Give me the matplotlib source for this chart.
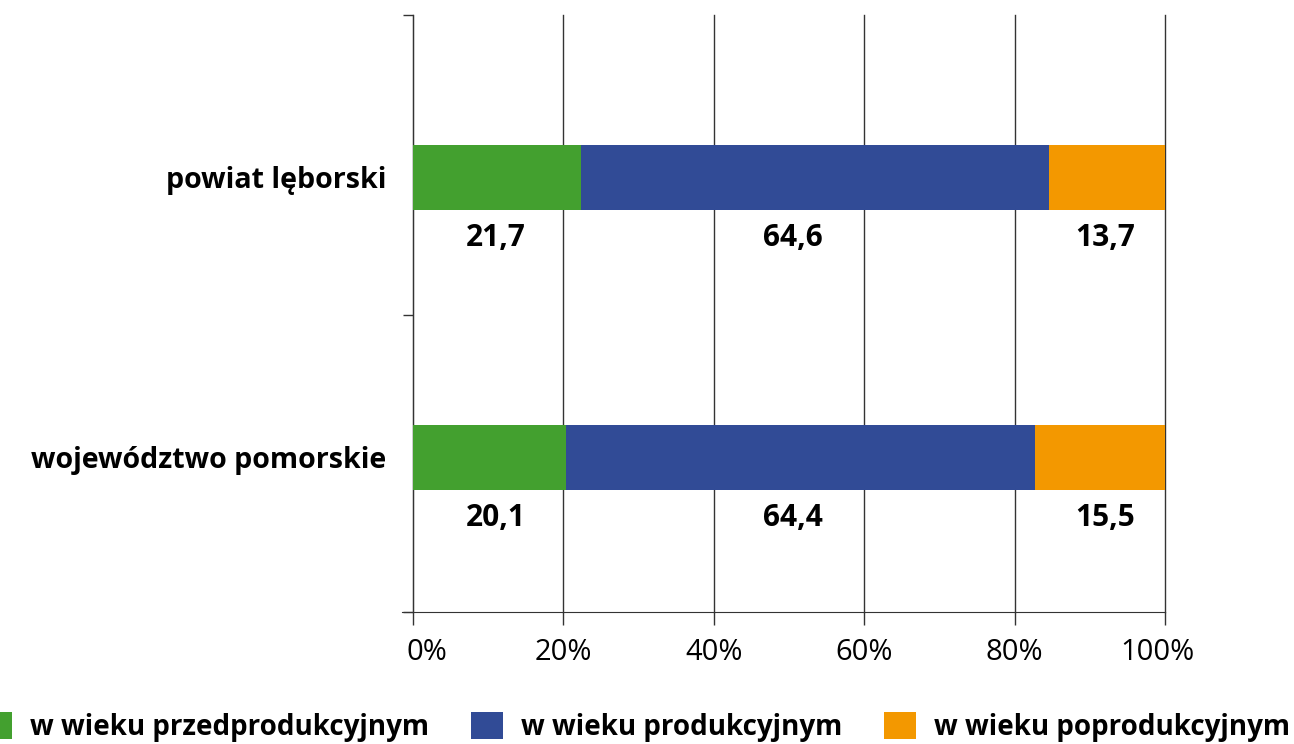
import matplotlib
matplotlib.use("Agg")
import matplotlib.pyplot as plt
import matplotlib.transforms as mtransforms
from matplotlib.patches import Patch

categories = ["województwo pomorskie", "powiat lęborski"]
series_names = ["w wieku przedprodukcyjnym", "w wieku produkcyjnym", "w wieku poprodukcyjnym"]
# segment widths as drawn in the reference picture
pre = [20.4, 22.3]
prod = [62.3, 62.3]
post = [17.3, 15.4]
# printed value labels
value_labels = [["20,1", "64,4", "15,5"], ["21,7", "64,6", "13,7"]]
xticks = [0, 20, 40, 60, 80, 100]
xtick_labels = ["0%", "20%", "40%", "60%", "80%", "100%"]

colors = ["#43a02f", "#314b96", "#f39800"]
FONT = "Open Sans"

fig = plt.figure(figsize=(12.94, 7.44), dpi=100)
ax = fig.add_axes([413/1294, 1-612/744, (1165-413)/1294, (612-15)/744])

ypos = [0, 1]
h = 0.232
left = [0, 0]
for vals, c in zip([pre, prod, post], colors):
    ax.barh(ypos, vals, left=left, height=h, color=c, zorder=3, linewidth=0)
    left = [l + v for l, v in zip(left, vals)]

label_x = [11, 50.5, 92]
for yi, labs in zip(ypos, value_labels):
    for xi, t in zip(label_x, labs):
        ax.text(xi, yi - 0.216, t, ha="center", va="center", fontsize=21.5,
                fontweight="bold", family=FONT, color="black")

ax.set_xlim(0, 100)
ax.set_ylim(-0.552, 1.580)
ax.set_xticks(xticks)
ax.set_xticklabels(xtick_labels, fontsize=21, family=FONT)
ax.tick_params(axis="x", length=9, width=1, color="#333333", pad=10)
ax.grid(axis="x", color="#333333", linewidth=1, zorder=0)
for gl in ax.get_xgridlines():
    gl.set_clip_on(False)
lbls = ax.get_xticklabels()
shifts = {0: 14, len(lbls) - 1: -8}
for i, dx in shifts.items():
    off = mtransforms.ScaledTranslation(dx / 100, 0, fig.dpi_scale_trans)
    lbls[i].set_transform(lbls[i].get_transform() + off)

ax.set_yticks([-0.552, 0.509, 1.580])
ax.set_yticklabels(["", "", ""])
ax.tick_params(axis="y", which="major", length=7, width=1, color="#333333")
ax.set_yticks(ypos, minor=True)
ax.set_yticklabels(categories, minor=True, fontsize=20.6, fontweight="bold", family=FONT)
ax.tick_params(axis="y", which="minor", length=0, pad=19)

for s in ["top", "right"]:
    ax.spines[s].set_visible(False)
ax.spines["left"].set_color("#333333")
ax.spines["bottom"].set_color("#333333")
ax.spines["bottom"].set_bounds(-1.4, 100)
ax.spines["bottom"].set_clip_on(False)

handles = [Patch(facecolor=c, edgecolor="none") for c in colors]
fig.legend(handles, series_names, loc="center left", bbox_to_anchor=(-20/1294, 1-727/744),
           ncol=3, frameon=False, borderpad=0, borderaxespad=0,
           prop={"family": FONT, "weight": "bold", "size": 20},
           handlelength=1.15, handleheight=1.08, handletextpad=0.65, columnspacing=1.5)

fig.savefig("out.png", dpi=100)
